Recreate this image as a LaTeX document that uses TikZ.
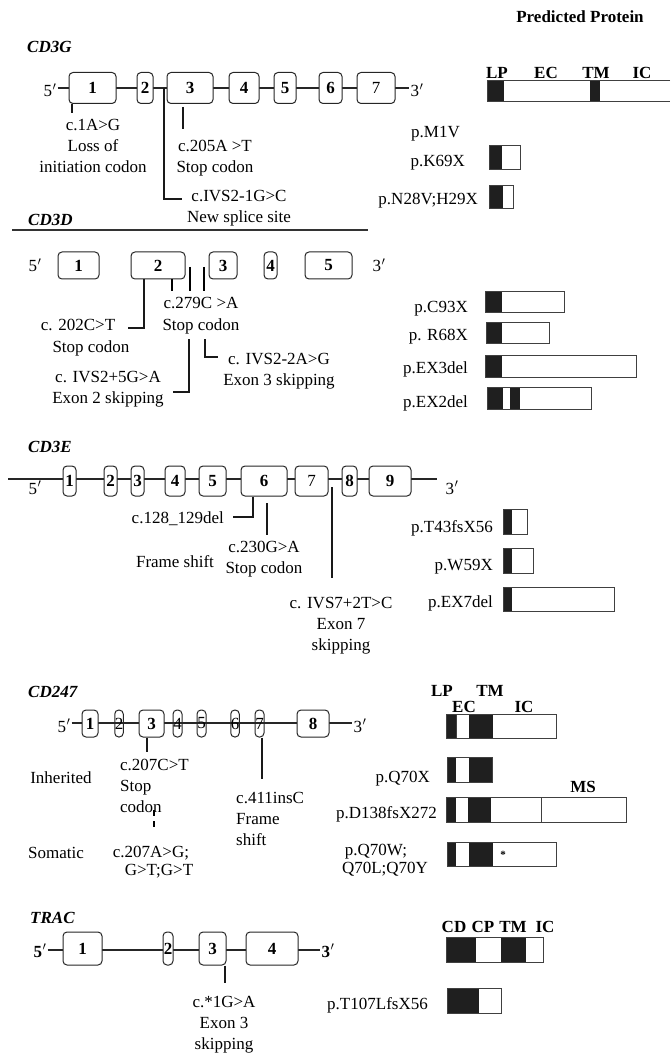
\documentclass[tikz,border=0pt]{standalone}
\usepackage{fontspec}
\setmainfont{Liberation Serif}
\newcommand\prm{\kern0.6pt$'$}
\newcommand\exonnode[7][exon]{\node[#1, minimum width={(#4-#3)*1pt}, minimum height={#6*1pt}] (#2) at ({(#3+#4)/2},#5) {#7};}
\newcommand\barseg[4]{\fill[barfill] (#1,#2) rectangle (#3,#4);}
\newcommand\barbox[4]{\draw[barline] (#1,#2) rectangle (#3,#4);}
\newcommand\barwhite[4]{\fill[white] (#1,#2) rectangle (#3,#4);}
\tikzset{
  every node/.style={font=\fontsize{17}{21}\selectfont, inner sep=0pt},
  txt/.style={anchor=base},
  txtr/.style={anchor=base east},
  txtl/.style={anchor=base west, align=left},
  boldtxt/.style={anchor=base, font=\fontsize{17}{21}\selectfont\bfseries},
  gene/.style={anchor=base west, font=\fontsize{17}{21}\selectfont\bfseries\itshape},
  exon/.style={draw=black!85, line width=1pt, rounded corners=4pt, fill=white, font=\fontsize{17}{21}\selectfont\bfseries, inner sep=0pt},
  exonclear/.style={exon, fill=none},
  backbone/.style={line width=1.2pt, black!85},
  tick/.style={line width=1.5pt, black!90},
  barline/.style={line width=1pt, black!75},
  barfill/.style={fill=black!88},
}
\begin{document}
\begin{tikzpicture}[x=1pt,y=-1pt]
\useasboundingbox (0,0) rectangle (670,1056);

\node[boldtxt] (hdr) at (580,23) {Predicted Protein};

%% ================= CD3G
\node[gene] (nG) at (27,53) {CD3G};
\node[txt, inner sep=1pt] (g5p) at (50,97) {5\prm};
\node[txt, inner sep=1pt] (g3p) at (417,97) {3\prm};
\coordinate (gAx) at (0,88);
\draw[backbone] (g5p.east |- gAx) -- (g3p.west |- gAx);
\exonnode{g1}{69}{116}{88}{31}{1}
\exonnode{g2}{137}{153}{88}{31}{2}
\exonnode{g3}{167}{213}{88}{31}{3}
\exonnode{g4}{229}{259}{88}{31}{4}
\exonnode{g5}{274}{296}{88}{31}{5}
\exonnode{g6}{319}{342}{88}{31}{6}
\exonnode{g7}{357}{395}{88}{31}{\mdseries 7}

\coordinate (tG1) at (72,113);
\draw[tick] (g1.south -| tG1) -- (tG1);
\node[txt, align=center] (lG1) at (93,173) {c.1A>G\\Loss of\\initiation codon};
\coordinate (tG2a) at (183,107); \coordinate (tG2b) at (183,129);
\draw[tick] (tG2a) -- (tG2b);
\node[txt, align=center] (lG2) at (215,173) {c.205A >T\\Stop codon};
\coordinate (tG3a) at (164,88); \coordinate (tG3b) at (182,199);
\draw[tick] (tG3a) |- (tG3b);
\node[txt, align=center] (lG3) at (239,223) {c.IVS2-1G>C\\New splice site};

% protein CD3G
\node[boldtxt] (gLP) at (497,79) {LP};
\node[boldtxt] (gEC) at (546,79) {EC};
\node[boldtxt] (gTM) at (596,79) {TM};
\node[boldtxt] (gIC) at (642,79) {IC};
\barwhite{487}{81}{670}{102}
\barseg{487}{81}{504}{102}
\barseg{590}{81}{600}{102}
\draw[barline] (670,81) -- (487,81) -- (487,102) -- (670,102);
\node[txtr] (pG1) at (460,138) {p.M1V};
\node[txtr] (pG2) at (465,167) {p.K69X};
\barwhite{489}{146}{520}{170}\barseg{489}{146}{502}{170}\barbox{489}{146}{520}{170}
\node[txtr] (pG3) at (478,205) {p.N28V;H29X};
\barwhite{489}{186}{513}{209}\barseg{489}{186}{503}{209}\barbox{489}{186}{513}{209}

%% rule
\coordinate (rl) at (12,230); \coordinate (rr) at (368,230);
\draw[line width=1.2pt, black!80] (rl) -- (rr);

%% ================= CD3D
\node[gene] (nD) at (28,226) {CD3D};
\node[txt, inner sep=1pt] (d5p) at (35,272) {5\prm};
\node[txt, inner sep=1pt] (d3p) at (379,272) {3\prm};
\exonnode{d1}{58}{99}{265.5}{27}{1}
\exonnode{d2}{131}{185}{265.5}{27}{2}
\exonnode{d3}{209}{237}{265.5}{27}{3}
\exonnode{d4}{264}{277}{265.5}{27}{4}
\exonnode{d5}{305}{352}{265.5}{27}{5}

\coordinate (tD1) at (128,328);
\draw[tick] (d2.south -| 144,0) |- (tD1);
\node[txt] (lD1a) at (78,330) {c. 202C>T};
\node[txt] (lD1b) at (91,352) {Stop codon};
\coordinate (tD2) at (172,291);
\draw[line width=1.2pt] (d2.south -| tD2) -- (tD2);
\coordinate (tD3a) at (190,267); \coordinate (tD3b) at (190,291);
\draw[line width=1.2pt] (tD3a) -- (tD3b);
\coordinate (tD4a) at (204,267); \coordinate (tD4b) at (204,291);
\draw[line width=1.2pt] (tD4a) -- (tD4b);
\node[txt, align=center] (lD2) at (201,330) {c.279C >A\\Stop codon};
\coordinate (tD5a) at (189,339); \coordinate (tD5b) at (173,392);
\draw[tick] (tD5a) |- (tD5b);
\node[txt, align=center] (lD5) at (108,403) {c. IVS2+5G>A\\Exon 2 skipping};
\coordinate (tD6a) at (205,339); \coordinate (tD6b) at (218,357);
\draw[tick] (tD6a) |- (tD6b);
\node[txt, align=center] (lD6) at (279,385) {c. IVS2-2A>G\\Exon 3 skipping};

% protein CD3D
\node[txtr] (pD1) at (468,312) {p.C93X};
\barwhite{485}{291}{564}{312}\barseg{485}{291}{502}{312}\barbox{485}{291}{564}{312}
\node[txtr] (pD2) at (468,340) {p. R68X};
\barwhite{486}{322}{549}{343}\barseg{486}{322}{502}{343}\barbox{486}{322}{549}{343}
\node[txtr] (pD3) at (468,373) {p.EX3del};
\barwhite{485}{355}{636}{377}\barseg{485}{355}{502}{377}\barbox{485}{355}{636}{377}
\node[txtr] (pD4) at (468,407) {p.EX2del};
\barwhite{487}{387}{591}{409}\barseg{487}{387}{503}{409}\barseg{510}{387}{520}{409}\barbox{487}{387}{591}{409}

%% ================= CD3E
\node[gene] (nE) at (28,452) {CD3E};
\coordinate (eL) at (8,479); \coordinate (eR) at (437,479);
\draw[backbone] (eL) -- (eR);
\node[txt, inner sep=1pt] (e5p) at (35,494) {5\prm};
\node[txt, inner sep=1pt] (e3p) at (452,494) {3\prm};
\exonnode{e1}{63}{76}{481}{30}{1}
\exonnode{e2}{104}{117}{481}{30}{2}
\exonnode{e3}{131}{144}{481}{30}{3}
\exonnode{e4}{165}{185}{481}{30}{4}
\exonnode{e5}{199}{226}{481}{30}{5}
\exonnode{e6}{241}{287}{481}{30}{6}
\exonnode{e7}{295}{328}{481}{30}{\mdseries 7}
\exonnode{e8}{342}{357}{481}{30}{8}
\exonnode{e9}{369}{411}{481}{30}{9}

\coordinate (tE1) at (233,517);
\draw[tick] (e6.south -| 253,0) |- (tE1);
\node[txtr] (lE1) at (224,523) {c.128\_129del};
\coordinate (tE2a) at (267,503); \coordinate (tE2b) at (267,535);
\draw[tick] (tE2a) -- (tE2b);
\node[txt, align=center] (lE2) at (264,573) {c.230G>A\\Stop codon};
\node[txt] (lE2f) at (175,567) {Frame shift};
\coordinate (tE3a) at (332,487); \coordinate (tE3b) at (332,578);
\draw[tick] (tE3a) -- (tE3b);
\node[txt, align=center] (lE3) at (341,650) {c. IVS7+2T>C\\Exon 7\\skipping};

% protein CD3E
\node[txtr] (pE1) at (493,532) {p.T43fsX56};
\barwhite{503}{509}{527}{534}\barseg{503}{509}{512}{534}\barbox{503}{509}{527}{534}
\node[txtr] (pE2) at (493,570) {p.W59X};
\barwhite{503}{548}{533}{573}\barseg{503}{548}{512}{573}\barbox{503}{548}{533}{573}
\node[txtr] (pE3) at (493,607) {p.EX7del};
\barwhite{503}{587}{614}{611}\barseg{503}{587}{512}{611}\barbox{503}{587}{614}{611}

%% ================= CD247
\node[gene] (nC) at (28,697) {CD247};
\node[txt, inner sep=1pt] (c5p) at (64,732) {5\prm};
\node[txt, inner sep=1pt] (c3p) at (360,732) {3\prm};
\coordinate (cAx) at (0,723);
\draw[backbone] (c5p.east |- cAx) -- (c3p.west |- cAx);
\exonnode{c1}{82}{98}{723.5}{27}{1}
\exonnode[exonclear]{c2}{115}{123}{723.5}{27}{\mdseries 2}
\exonnode{c3}{139}{164}{723.5}{27}{3}
\exonnode[exonclear]{c4}{173}{182}{723.5}{27}{\mdseries 4}
\exonnode[exonclear]{c5}{197}{206}{723.5}{27}{\mdseries 5}
\exonnode[exonclear]{c6}{231}{239}{723.5}{27}{\mdseries 6}
\exonnode[exonclear]{c7}{255}{264}{723.5}{27}{\mdseries 7}
\exonnode{c8}{297}{329}{723.5}{27}{8}

\coordinate (tC1) at (147,752);
\draw[tick] (c3.south -| tC1) -- (tC1);
\node[txtl] (lC1) at (120,812) {c.207C>T\\Stop\\codon};
\coordinate (tC2a) at (154,810); \coordinate (tC2b) at (154,828);
\draw[line width=1.2pt, dash pattern=on 6pt off 5pt] (tC2a) -- (tC2b);
\node[txt] (lInh) at (61,783) {Inherited};
\node[txt] (lSom) at (56,858) {Somatic};
\node[txt] (lC2a) at (151,857) {c.207A>G;};
\node[txt] (lC2b) at (159,875) {G>T;G>T};
\coordinate (tC3) at (262,779);
\draw[tick] (c7.south -| tC3) -- (tC3);
\node[txtl] (lC3) at (236,845) {c.411insC\\Frame\\shift};

% protein CD247
\node[boldtxt] (cLP) at (442,696) {LP};
\node[boldtxt] (cTM) at (490,696) {TM};
\node[boldtxt] (cEC) at (464,712) {EC};
\node[boldtxt] (cIC) at (524,712) {IC};
\barwhite{446}{714}{556}{738}\barseg{446}{714}{456}{738}\barseg{469}{714}{493}{738}\barbox{446}{714}{556}{738}
\draw[barline] (456,714) -- (456,738);
\node[txtr] (pC1) at (430,782) {p.Q70X};
\barwhite{447}{757}{492}{782}\barseg{447}{757}{456}{782}\barseg{469}{757}{492}{782}\barbox{447}{757}{492}{782}
\node[boldtxt] (cMS) at (583,792) {MS};
\node[txtr] (pC2) at (437,818) {p.D138fsX272};
\barwhite{446}{797}{626}{822}\barseg{446}{797}{456}{822}\barseg{468}{797}{491}{822}\barbox{446}{797}{626}{822}
\draw[barline] (541,797) -- (541,822);
\node[txt] (pC3a) at (376,855) {p.Q70W;};
\node[txt] (pC3b) at (385,873) {Q70L;Q70Y};
\barwhite{447}{842}{556}{866}\barseg{447}{842}{456}{866}\barseg{469}{842}{493}{866}\barbox{447}{842}{556}{866}
\node[font=\fontsize{11}{12}\selectfont\bfseries] (cStar) at (503,855) {*};

%% ================= TRAC
\node[gene] (nT) at (30,923) {TRAC};
\node[boldtxt, inner sep=1pt] (r5p) at (40,957) {5\prm};
\node[boldtxt, inner sep=1pt] (r3p) at (328,957) {3\prm};
\coordinate (rAx) at (0,950);
\draw[backbone] (r5p.east |- rAx) -- (r3p.west |- rAx);
\exonnode{r1}{63}{102}{948.5}{33}{1}
\exonnode{r2}{163}{173}{948.5}{33}{2}
\exonnode{r3}{199}{226}{948.5}{33}{3}
\exonnode{r4}{246}{298}{948.5}{33}{4}
\coordinate (tR1) at (225,983);
\draw[tick] (r3.south -| tR1) -- (tR1);
\node[txt, align=center] (lR1) at (224,1049) {c.*1G>A\\Exon 3\\skipping};

% protein TRAC
\node[boldtxt] (rCD) at (454,932) {CD};
\node[boldtxt] (rCP) at (483,932) {CP};
\node[boldtxt] (rTM) at (513,932) {TM};
\node[boldtxt] (rIC) at (545,932) {IC};
\barwhite{446}{937}{543}{962}\barseg{446}{937}{476}{962}\barseg{501}{937}{526}{962}\barbox{446}{937}{543}{962}
\node[txtr] (pR1) at (428,1009) {p.T107LfsX56};
\barwhite{447}{988}{501}{1013}\barseg{447}{988}{479}{1013}\barbox{447}{988}{501}{1013}
\end{tikzpicture}
\end{document}
